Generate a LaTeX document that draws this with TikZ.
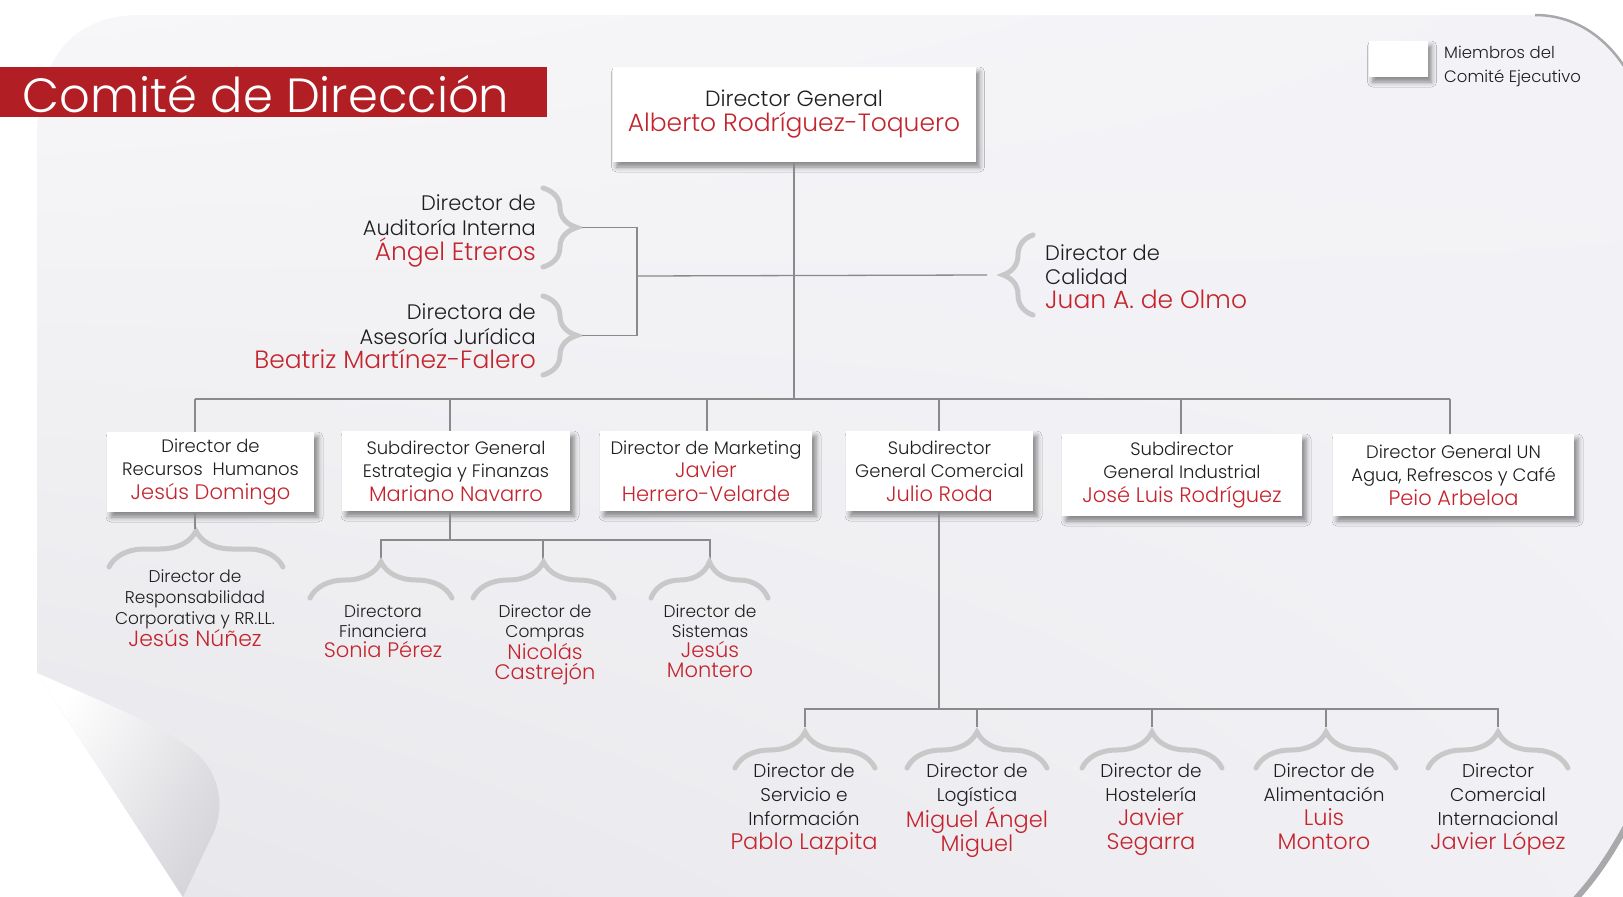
\documentclass[tikz,border=0pt]{standalone}
\usepackage{fontspec}
\setmainfont{Poppins}[UprightFont=* Light]
\usetikzlibrary{shadows.blur,decorations.pathreplacing,shadings}
\definecolor{bgc}{HTML}{F3F3F7}
\definecolor{bgtl}{HTML}{F7F7F9}
\definecolor{bgbl}{HTML}{E7E7EB}
\definecolor{bgbr}{HTML}{F1F1F5}
\definecolor{titlered}{HTML}{B11E24}
\definecolor{namered}{HTML}{C4242D}
\definecolor{linegray}{HTML}{8A8A8A}
\definecolor{bracegray}{HTML}{C8C8C8}
\definecolor{edgegray}{HTML}{A9A9AC}
\definecolor{txt}{HTML}{1E1E1E}
\definecolor{curlgray}{HTML}{D5D5DA}
\newcommand\nm[1]{{\color{namered}#1}}
\newcommand\fs[2]{\fontsize{#1}{#2}\selectfont}
\begin{document}
\begin{tikzpicture}[x=1pt,y=-1pt,
  card/.style={fill=white, inner sep=0pt, align=center, text=txt,
    blur shadow={shadow xshift=4pt, shadow yshift=-5pt, shadow blur radius=5pt, shadow opacity=45}},
  conn/.style={draw=linegray, line width=1.3pt},
  brc/.style={draw=bracegray, line width=5pt, line cap=round, decorate,
    decoration={brace, amplitude=#1, aspect=0.5}},
  lbl/.style={inner sep=0pt, align=center, text=txt},
]
\useasboundingbox (0,0) rectangle (1623,897);
\clip (0,0) rectangle (1623,897);
\fill[white] (0,0) rectangle (1623,897);
% page
\shade[upper left=bgtl, upper right=bgc, lower left=bgbl, lower right=bgbr]
  (37,673) -- (37,140) .. controls (37,55) and (75,15) .. (140,15) -- (1535,15)
  .. controls (1585,15) and (1625,50) .. (1645,110) -- (1645,790)
  .. controls (1615,850) and (1595,880) .. (1565,910) -- (191,910) -- cycle;
\draw[edgegray, line width=2.5pt] (1535,15) .. controls (1585,15) and (1625,50) .. (1645,110);
\draw[edgegray, line width=6pt] (1645,790) .. controls (1615,850) and (1595,880) .. (1565,910);
% curl
\shade[left color=white, right color=curlgray, shading angle=60]
  (37,673) .. controls (110,705) and (170,730) .. (195,752) .. controls (222,775) and (226,812) .. (210,840)
  -- (183,897) -- cycle;
% title
\fill[titlered] (0,67) rectangle (547,117);
\node[text=white, inner sep=0pt, font=\fs{48}{48}, anchor=base] (title) at (266,112) {Comité de Dirección};
% legend
\node[card, minimum width=59, minimum height=36] (leg) at (1398,59) {};
\node[lbl, align=left, anchor=west, font=\fs{16.5}{24}] (legt) at (1444,66) {Miembros del\\Comité Ejecutivo};
% director general
\node[card, minimum width=363, minimum height=95, font=\fs{22}{25}] (dg) at (794,114.5)
  {Director General\\{\fs{25}{25}\nm{Alberto Rodríguez-Toquero}}};
% staff
\node[lbl, align=right, anchor=north east, font=\fs{21}{25}] (aud) at (536,195)
  {Director de\\Auditoría Interna\\{\fs{25}{25}\nm{Ángel Etreros}}};
\node[lbl, align=right, anchor=north east, font=\fs{21}{24.5}] (jur) at (536,304)
  {Directora de\\Asesoría Jurídica\\{\fs{25}{24.5}\nm{Beatriz Martínez-Falero}}};
\node[lbl, align=left, anchor=north west, font=\fs{21}{24}] (cal) at (1045,245)
  {Director de\\Calidad\\{\fs{25}{24}\nm{Juan A. de Olmo}}};
\draw[brc=34] (543,188) -- coordinate[pos=0.5] (audm) (543,267);
\draw[brc=34] (543,296) -- coordinate[pos=0.5] (jurm) (543,375);
\draw[brc=30] (1033,315) -- coordinate[pos=0.5] (calm) (1033,235);
\coordinate (staffx) at (637,276);
\draw[conn] ([xshift=39pt]audm) -| (staffx) |- ([xshift=39pt]jurm);
\draw[conn] (staffx) -- ([xshift=-46pt]calm);
% second level boxes
\node[card, minimum width=207, minimum height=80, font=\fs{18}{23.5}] (b1) at (210.5,472)
  {Director de\\Recursos\ \ Humanos\\{\fs{21}{23.5}\nm{Jesús Domingo}}};
\node[card, minimum width=228, minimum height=80, font=\fs{18}{23.5}] (b2) at (456,471)
  {Subdirector General\\Estrategia y Finanzas\\{\fs{21}{23.5}\nm{Mariano Navarro}}};
\node[card, minimum width=212, minimum height=80, font=\fs{18}{23.5}] (b3) at (706,471)
  {Director de Marketing\\{\fs{21}{23.5}\nm{Javier}}\\{\fs{21}{23.5}\nm{Herrero-Velarde}}};
\node[card, minimum width=187, minimum height=80, font=\fs{18}{23.5}] (b4) at (939.5,471)
  {Subdirector\\General Comercial\\{\fs{21}{23.5}\nm{Julio Roda}}};
\node[card, minimum width=240, minimum height=82, font=\fs{18}{23.5}] (b5) at (1182,475)
  {Subdirector\\General Industrial\\{\fs{21}{23.5}\nm{José Luis Rodríguez}}};
\node[card, minimum width=241, minimum height=82, font=\fs{18}{23.5}] (b6) at (1453.5,475)
  {Director General UN\\Agua, Refrescos y Café\\{\fs{21}{23.5}\nm{Peio Arbeloa}}};
\coordinate (bus) at (794,399);
\draw[conn] (dg.south) -- (bus);
\draw[conn] (195,399) -- (1450,399);
\foreach \b/\x in {b1/195,b2/450,b3/707,b4/939,b5/1181,b6/1450}
  \draw[conn] (\x,399) -- (\x,0 |- \b.north);
% children of b1
\draw[brc=36] (109,567) -- (283,567);
\draw[conn] (195,0 |- b1.south) -- (195,529);
\node[lbl, anchor=north, font=\fs{17}{20.7}] (rsc) at (195,570)
  {Director de\\Responsabilidad\\Corporativa y RR.LL.\\{\fs{22}{20.7}\nm{Jesús Núñez}}};
% children of b2
\draw[conn] (450,0 |- b2.south) -- (450,540);
\draw[conn] (381,559) |- (710,540) -- (710,559);
\draw[conn] (543,540) -- (543,559);
\draw[brc=36] (310,598) -- (452,598);
\draw[brc=36] (473,598) -- (614,598);
\draw[brc=36] (651,598) -- (768,598);
\node[lbl, anchor=north, font=\fs{17}{20}] (fin) at (383,605)
  {Directora\\Financiera\\{\fs{21}{20}\nm{Sonia Pérez}}};
\node[lbl, anchor=north, font=\fs{17}{20}] (com) at (545,605)
  {Director de\\Compras\\{\fs{21}{20}\nm{Nicolás}}\\{\fs{21}{20}\nm{Castrejón}}};
\node[lbl, anchor=north, font=\fs{17}{20}] (sis) at (710,605)
  {Director de\\Sistemas\\{\fs{21}{20}\nm{Jesús}}\\{\fs{21}{20}\nm{Montero}}};
% children of b4
\draw[conn] (939,0 |- b4.south) -- (939,709);
\draw[conn] (805,727) |- (1498,709) -- (1498,727);
\foreach \x in {977,1152,1326} \draw[conn] (\x,709) -- (\x,727);
\foreach \x in {805,977,1152,1326,1498} \draw[brc=36] (\x-70,768) -- (\x+70,768);
\node[lbl, anchor=north, font=\fs{18.5}{24}] (ser) at (804,763)
  {Director de\\Servicio e\\Información\\{\fs{22.5}{24}\nm{Pablo Lazpita}}};
\node[lbl, anchor=north, font=\fs{18.5}{24}] (log) at (977,763)
  {Director de\\Logística\\{\fs{22.5}{24}\nm{Miguel Ángel}}\\{\fs{22.5}{24}\nm{Miguel}}};
\node[lbl, anchor=north, font=\fs{18.5}{24}] (hos) at (1151,763)
  {Director de\\Hostelería\\{\fs{22.5}{24}\nm{Javier}}\\{\fs{22.5}{24}\nm{Segarra}}};
\node[lbl, anchor=north, font=\fs{18.5}{24}] (ali) at (1324,763)
  {Director de\\Alimentación\\{\fs{22.5}{24}\nm{Luis}}\\{\fs{22.5}{24}\nm{Montoro}}};
\node[lbl, anchor=north, font=\fs{18.5}{24}] (int) at (1498,763)
  {Director\\Comercial\\Internacional\\{\fs{22.5}{24}\nm{Javier López}}};
\end{tikzpicture}
\end{document}
